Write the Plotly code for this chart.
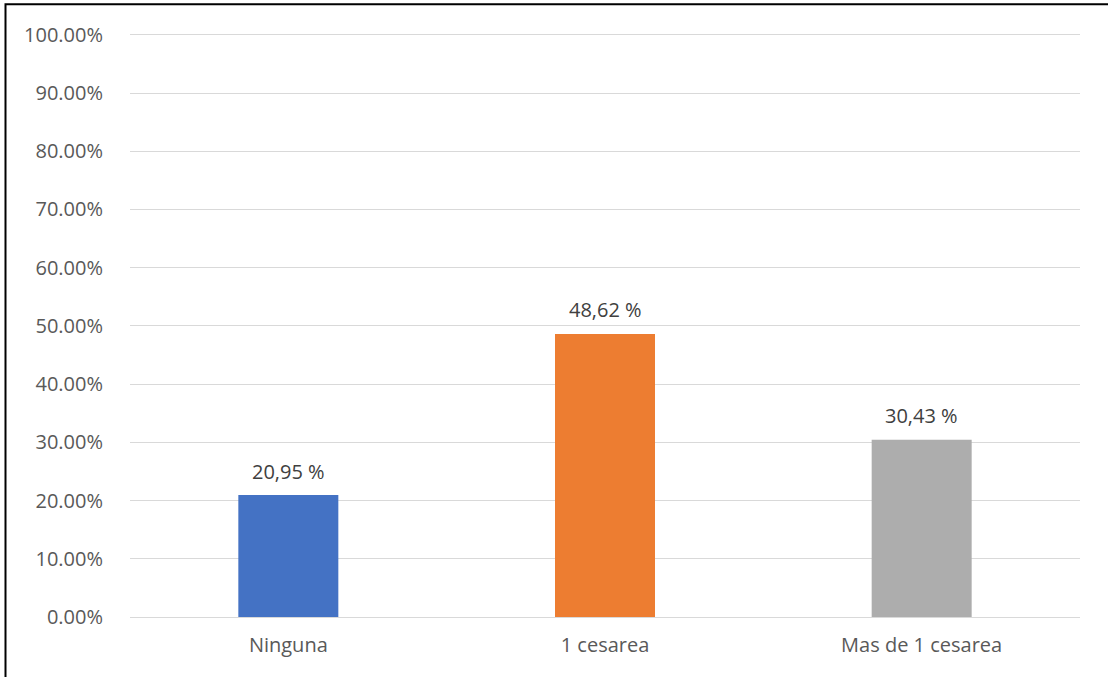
import plotly.graph_objects as go

categories = ["Ninguna", "1 cesarea", "Mas de 1 cesarea"]
values = [20.95, 48.62, 30.43]
labels = ["20,95 %", "48,62 %", "30,43 %"]
colors = ["#4472C4", "#ED7D31", "#ADADAD"]
tick_values = [0, 10, 20, 30, 40, 50, 60, 70, 80, 90, 100]
tick_labels = ["0.00%", "10.00%", "20.00%", "30.00%", "40.00%", "50.00%",
               "60.00%", "70.00%", "80.00%", "90.00%", "100.00%"]

W, H = 1108, 677
YMAX = 101
L, R, B = 130, 28, 60
unit = 582 / 100  # px per percent
ph = unit * YMAX
T = H - B - ph
pw = W - L - R
FONT = "Open Sans"

fig = go.Figure(go.Bar(
    x=categories, y=values,
    marker=dict(color=colors, line=dict(width=0)),
    hoverinfo="skip",
))

annotations = [
    dict(x=c, y=v, text=t, xref="x", yref="y", showarrow=False,
         yanchor="middle", yshift=24,
         font=dict(family=FONT, size=20, color="#404040"))
    for c, v, t in zip(categories, values, labels)
]

fig.update_layout(
    width=W, height=H,
    margin=dict(l=L, r=R, t=T, b=B),
    paper_bgcolor="white", plot_bgcolor="white",
    bargap=1 - 100 / (pw / 3),
    showlegend=False,
    font=dict(family=FONT, size=20, color="#595959"),
    xaxis=dict(showgrid=False, showline=True, linecolor="#D9D9D9", linewidth=1,
               ticks="outside", ticklen=10, tickcolor="rgba(0,0,0,0)",
               tickfont=dict(family=FONT, size=20, color="#595959")),
    yaxis=dict(range=[0, YMAX], tickmode="array", tickvals=tick_values, ticktext=tick_labels,
               showgrid=True, gridcolor="#D9D9D9", gridwidth=1, zeroline=False,
               ticks="outside", ticklen=22, tickcolor="rgba(0,0,0,0)",
               tickfont=dict(family=FONT, size=20, color="#595959")),
    annotations=annotations,
    shapes=[dict(type="rect", xref="paper", yref="paper",
                 x0=(5.5 - L) / pw, x1=(W + 10 - L) / pw,
                 y0=-(B + 10) / ph, y1=(H - B - 4.5) / ph,
                 line=dict(color="black", width=2), fillcolor="rgba(0,0,0,0)", layer="above")],
)

fig.write_html("out.html")
